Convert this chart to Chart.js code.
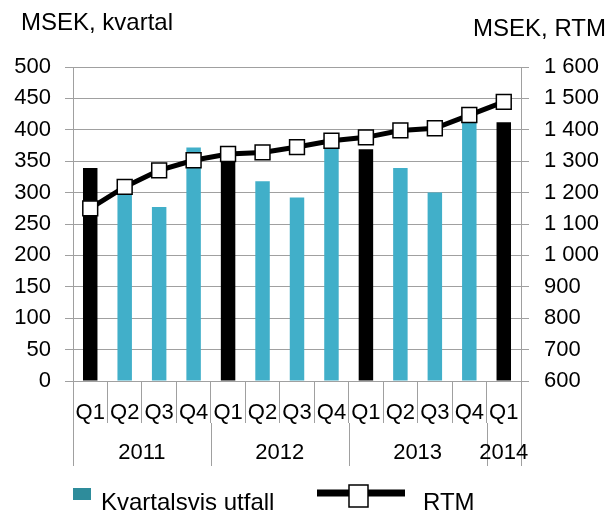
<!DOCTYPE html>
<html>
<head>
<meta charset="utf-8">
<script src="https://cdn.jsdelivr.net/npm/chart.js@4/dist/chart.umd.min.js"></script>
<style>
  html, body { margin: 0; padding: 0; background: #fff; }
  canvas { display: block; }
</style>
</head>
<body>
<canvas id="c" width="607" height="511"></canvas>
<script>
// ---- data ----
const categories = ['Q1','Q2','Q3','Q4','Q1','Q2','Q3','Q4','Q1','Q2','Q3','Q4','Q1'];
const years      = ['2011','2011','2011','2011','2012','2012','2012','2012','2013','2013','2013','2013','2014'];
const quarterly  = [339, 312, 277, 372, 358, 318, 292, 392, 369, 339, 300, 432, 412];
const rtm        = [1150, 1218, 1271, 1303, 1323, 1328, 1345, 1365, 1376, 1398, 1405, 1447, 1489];
const leftTitle  = 'MSEK, kvartal';
const rightTitle = 'MSEK, RTM';
const barLabel   = 'Kvartalsvis utfall';
const lineLabel  = 'RTM';

const FONT = "'Liberation Sans', Arial, sans-serif";
const TEAL = '#41afc9';
const TEAL_LEGEND = '#2e8c9b';
const GRID = '#a0a0a0';

function fmtThousands(v) {
  if (v >= 1000) return Math.floor(v / 1000) + ' ' + String(v % 1000).padStart(3, '0');
  return String(v);
}

const extrasPlugin = {
  id: 'extras',
  afterDraw(chart) {
    const ctx = chart.ctx;
    const x = chart.scales.x;
    const area = chart.chartArea;
    const n = categories.length;
    const cw = (area.right - area.left) / n;
    ctx.save();
    // titles
    ctx.fillStyle = '#000';
    ctx.font = '24px ' + FONT;
    ctx.textBaseline = 'alphabetic';
    ctx.textAlign = 'left';
    ctx.fillText(leftTitle, 21, 29.5);
    ctx.textAlign = 'right';
    ctx.fillText(rightTitle, 606, 36);

    // year groups
    ctx.font = '22px ' + FONT;
    const groups = [];
    years.forEach((y, i) => {
      if (!groups.length || groups[groups.length - 1].label !== y) groups.push({label: y, start: i, end: i});
      else groups[groups.length - 1].end = i;
    });
    const y0 = area.bottom + 42;
    const y1 = area.bottom + 85;
    ctx.strokeStyle = GRID;
    ctx.lineWidth = 1;
    const bounds = [];
    groups.forEach(g => bounds.push(x.getPixelForValue(g.start) - cw / 2));
    bounds.push(x.getPixelForValue(n - 1) + cw / 2);
    bounds.forEach(b => {
      const bx = Math.round(b) + 0.5;
      ctx.beginPath();
      ctx.moveTo(bx, y0);
      ctx.lineTo(bx, y1);
      ctx.stroke();
    });
    ctx.textAlign = 'center';
    ctx.textBaseline = 'middle';
    ctx.fillStyle = '#000';
    groups.forEach(g => {
      const cx = (x.getPixelForValue(g.start) + x.getPixelForValue(g.end)) / 2;
      ctx.fillText(g.label, cx, area.bottom + 72);
    });

    // legend
    ctx.font = '24px ' + FONT;
    const ds = chart.data.datasets;
    ctx.fillStyle = TEAL_LEGEND;
    ctx.fillRect(73, 488, 18, 12);
    ctx.fillStyle = '#000';
    ctx.textAlign = 'left';
    ctx.textBaseline = 'alphabetic';
    ctx.fillText(ds[0].label, 101, 510);
    ctx.strokeStyle = '#000';
    ctx.lineWidth = 7;
    ctx.beginPath();
    ctx.moveTo(317, 493);
    ctx.lineTo(405, 493);
    ctx.stroke();
    ctx.fillStyle = '#fff';
    ctx.lineWidth = 1.5;
    ctx.fillRect(349, 485, 19, 22);
    ctx.strokeRect(349, 485, 19, 22);
    ctx.fillStyle = '#000';
    ctx.fillText(ds[1].label, 423, 510);
    ctx.restore();
  }
};

new Chart(document.getElementById('c'), {
  data: {
    labels: categories,
    datasets: [
      {
        type: 'bar',
        label: barLabel,
        data: quarterly,
        yAxisID: 'y',
        order: 1,
        backgroundColor: categories.map(c => c === 'Q1' ? '#000000' : TEAL),
        borderWidth: 0,
        categoryPercentage: 1,
        barPercentage: 0.42
      },
      {
        type: 'line',
        label: lineLabel,
        data: rtm,
        yAxisID: 'y2',
        order: 0,
        borderColor: '#000',
        borderWidth: 5,
        tension: 0,
        pointStyle: 'rect',
        pointRadius: 10.5,
        pointHoverRadius: 10.5,
        pointBackgroundColor: '#fff',
        pointBorderColor: '#000',
        pointBorderWidth: 1.5
      }
    ]
  },
  options: {
    responsive: false,
    animation: false,
    devicePixelRatio: 1,
    layout: { padding: { top: 67, left: 0, right: 0, bottom: 0 } },
    plugins: {
      legend: { display: false },
      tooltip: { enabled: false },
      title: { display: false }
    },
    scales: {
      x: {
        type: 'category',
        offset: true,
        grid: {
          offset: true,
          drawOnChartArea: false,
          drawTicks: true,
          tickLength: 42,
          color: GRID,
          lineWidth: 1
        },
        border: { display: true, color: GRID, width: 1 },
        ticks: {
          color: '#000',
          font: { family: FONT, size: 22 },
          padding: -23,
          maxRotation: 0,
          minRotation: 0,
          autoSkip: false
        },
        afterFit(s) { s.height = 130; }
      },
      y: {
        position: 'left',
        min: 0,
        max: 500,
        ticks: {
          stepSize: 50,
          color: '#000',
          font: { family: FONT, size: 22 },
          padding: 14
        },
        grid: { color: GRID, lineWidth: 1, tickLength: 8 },
        border: { display: true, color: GRID, width: 1 },
        afterFit(s) { s.width = 73; }
      },
      y2: {
        position: 'right',
        min: 600,
        max: 1600,
        ticks: {
          stepSize: 100,
          color: '#000',
          font: { family: FONT, size: 22 },
          padding: 15,
          callback: v => fmtThousands(v)
        },
        grid: { drawOnChartArea: false, color: GRID, lineWidth: 1, tickLength: 8 },
        border: { display: true, color: GRID, width: 1 },
        afterFit(s) { s.width = 86; }
      }
    }
  },
  plugins: [extrasPlugin]
});
</script>
</body>
</html>
